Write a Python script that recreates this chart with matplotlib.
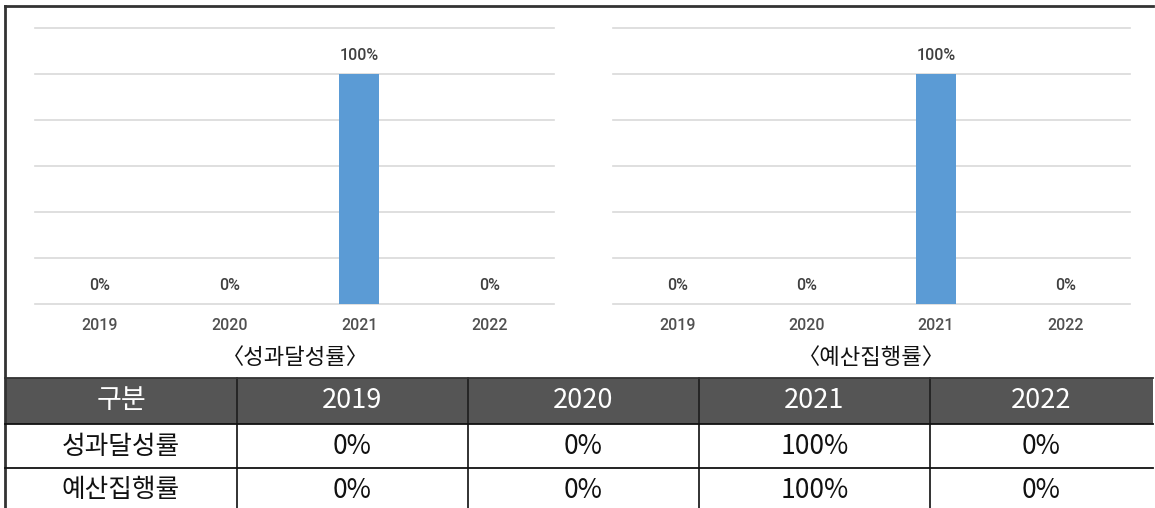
import matplotlib.pyplot as plt

plt.rcParams['font.family'] = ['Noto Sans CJK KR', 'DejaVu Sans']

# data
years = ['2019', '2020', '2021', '2022']
perf_rate = [0, 0, 100, 0]      # 성과달성률 (%)
budget_rate = [0, 0, 100, 0]    # 예산집행률 (%)
row_names = ['성과달성률', '예산집행률']
captions = ['〈성과달성률〉', '〈예산집행률〉']

W, H = 1155, 508
fig = plt.figure(figsize=(W / 100, H / 100), dpi=100)

# background / table layer in pixel coordinates
tab = fig.add_axes([0, 0, 1, 1])
tab.set_xlim(0, W)
tab.set_ylim(H, 0)
tab.axis('off')


def bar_chart(rect, values, caption, cap_x):
    ax = fig.add_axes(rect)
    ax.set_facecolor('none')
    x = range(len(years))
    ax.bar(x, values, width=0.31, color='#5b9bd5', zorder=3)
    ax.set_xlim(-0.5, len(years) - 0.5)
    ax.set_ylim(0, 120)
    ax.set_yticks(range(0, 121, 20))
    ax.yaxis.grid(True, color='#d9d9d9', lw=1.2, zorder=0)
    for gl in ax.get_ygridlines():
        gl.set_clip_on(False)
    ax.set_yticklabels([])
    ax.tick_params(length=0)
    ax.set_xticks(list(x))
    ax.set_xticklabels(years, fontsize=11.5, color='#505050', family='Roboto',
                       fontweight='medium')
    ax.tick_params(axis='x', pad=10)
    for s in ax.spines.values():
        s.set_visible(False)
    for i, v in enumerate(values):
        ax.annotate(f'{v}%', (i, v), xytext=(0, 13.5), textcoords='offset points',
                    ha='center', va='center', fontsize=11.5, color='#404040',
                    family='Roboto', fontweight='medium')
    tab.text(cap_x, 358, caption, ha='center', va='center', fontsize=16, color='#111111')


bot = (H - 304) / H
hgt = (304 - 28) / H
bar_chart([35 / W, bot, 519 / W, hgt], perf_rate, captions[0], 295)
bar_chart([613 / W, bot, 517 / W, hgt], budget_rate, captions[1], 871)

# outer border
tab.plot([5, 1153], [6, 6], color='#333333', lw=2)
tab.plot([5, 5], [6, H], color='#333333', lw=2)

# table
col_edges = [5, 237, 468, 699, 930, 1153]
row_centers = [401, 447, 490]
tab.add_patch(plt.Rectangle((5, 378), 1148, 46, facecolor='#555555', edgecolor='none'))
for xe in col_edges[1:-1]:
    tab.plot([xe, xe], [378, H], color='#222222', lw=1.3)
tab.plot([5, 1153], [378, 378], color='#333333', lw=1.3)
tab.plot([5, 1153], [424, 424], color='#111111', lw=1.3)
tab.plot([5, 1153], [468, 468], color='#111111', lw=1.3)

centers = [(col_edges[i] + col_edges[i + 1]) / 2 for i in range(5)]
header = ['구분'] + years
for cx, txt in zip(centers, header):
    tab.text(cx, row_centers[0], txt, ha='center', va='center', fontsize=19.5,
             color='white', fontweight='light')

for r, (name, vals) in enumerate(zip(row_names, [perf_rate, budget_rate])):
    cy = row_centers[r + 1]
    tab.text(centers[0], cy, name, ha='center', va='center', fontsize=18.5,
             color='#111111', fontweight='light')
    for cx, v in zip(centers[1:], vals):
        tab.text(cx, cy, f'{v}%', ha='center', va='center', fontsize=19,
                 color='#111111', fontweight='light')

fig.savefig('out.png', dpi=100)
